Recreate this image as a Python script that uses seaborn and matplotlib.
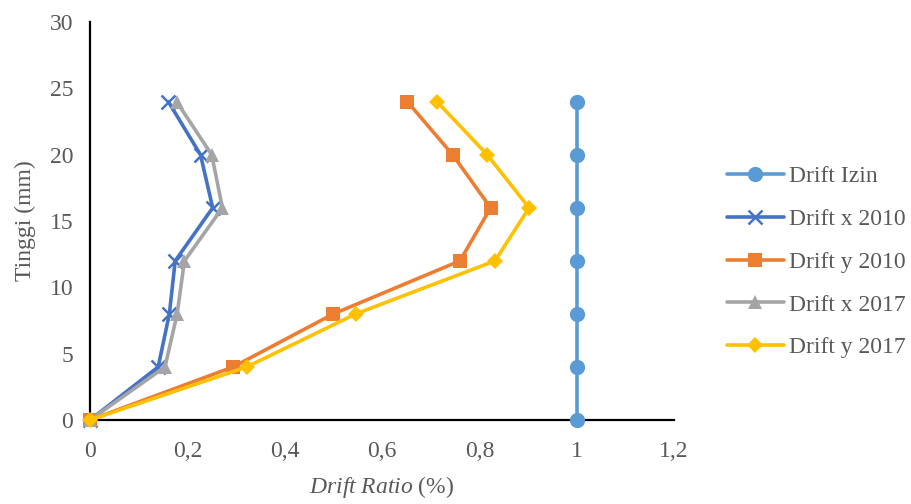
import matplotlib
matplotlib.use("Agg")
import matplotlib.pyplot as plt
import seaborn as sns
import pandas as pd

# Storey heights (Tinggi) and drift ratios (%)
tinggi = [0, 4, 8, 12, 16, 20, 24]
drift_izin = [1, 1, 1, 1, 1, 1, 1]
drift_x_2010 = [0, 0.140, 0.163, 0.175, 0.252, 0.227, 0.161]
drift_y_2010 = [0, 0.294, 0.500, 0.760, 0.823, 0.745, 0.652]
drift_x_2017 = [0, 0.154, 0.179, 0.194, 0.272, 0.250, 0.178]
drift_y_2017 = [0, 0.322, 0.546, 0.832, 0.902, 0.816, 0.713]

series_names = ["Drift Izin", "Drift x 2010", "Drift y 2010", "Drift x 2017", "Drift y 2017"]
series_values = [drift_izin, drift_x_2010, drift_y_2010, drift_x_2017, drift_y_2017]
x_ticks = [0, 0.2, 0.4, 0.6, 0.8, 1, 1.2]
x_tick_labels = ["0", "0,2", "0,4", "0,6", "0,8", "1", "1,2"]
y_ticks = [0, 5, 10, 15, 20, 25, 30]

colors = ["#5B9BD5", "#4472C4", "#ED7D31", "#A5A5A5", "#FFC000"]
markers = ["o", "x", "s", "^", "D"]
msizes = [11, 10, 10, 10, 8]

sns.set_theme(style="white")
plt.rcParams["font.family"] = ["Liberation Serif", "DejaVu Serif"]
plt.rcParams["mathtext.fontset"] = "custom"
plt.rcParams["mathtext.it"] = "Liberation Serif:italic"
plt.rcParams["mathtext.rm"] = "Liberation Serif"
text_color = "#595959"

fig = plt.figure(figsize=(9.12, 5.04), dpi=100)
ax = fig.add_axes([0.0987, 0.1667, 0.6405, 0.7893])

frames = []
for name, vals in zip(series_names, series_values):
    frames.append(pd.DataFrame({"series": name, "drift": vals, "tinggi": tinggi}))
df = pd.concat(frames, ignore_index=True)

for name, c, m, ms in zip(series_names, colors, markers, msizes):
    sub = df[df["series"] == name]
    sns.lineplot(data=sub, x="drift", y="tinggi", sort=False, estimator=None,
                 color=c, marker=m, markersize=ms, linewidth=2.6,
                 markeredgewidth=1.8 if m == "x" else 0,
                 markeredgecolor=c, ax=ax, label=name, clip_on=False, zorder=3)

ax.set_xlim(0, 1.2)
ax.set_ylim(0, 30)
ax.set_xticks(x_ticks)
ax.set_xticklabels(x_tick_labels)
ax.set_yticks(y_ticks)
ax.tick_params(axis="x", length=0, labelsize=17, labelcolor=text_color, pad=15)
ax.tick_params(axis="y", length=0, labelsize=17, labelcolor=text_color, pad=12)

for side in ["top", "right"]:
    ax.spines[side].set_visible(False)
for side in ["left", "bottom"]:
    ax.spines[side].set_color("black")
    ax.spines[side].set_linewidth(1.6)
    ax.spines[side].set_zorder(2)

ax.set_xlabel("$\\mathit{Drift\\ Ratio}$ (%)", fontsize=17, color=text_color, labelpad=9)
ax.set_ylabel("Tinggi (mm)", fontsize=17, color=text_color, labelpad=10)

leg = ax.legend(loc="center left", bbox_to_anchor=(0.797, 0.48),
                bbox_transform=fig.transFigure, frameon=False,
                fontsize=17, labelcolor=text_color, handlelength=2.4,
                handletextpad=0.25, labelspacing=0.9, borderaxespad=0, borderpad=0)

fig.savefig("out.png", dpi=100)
